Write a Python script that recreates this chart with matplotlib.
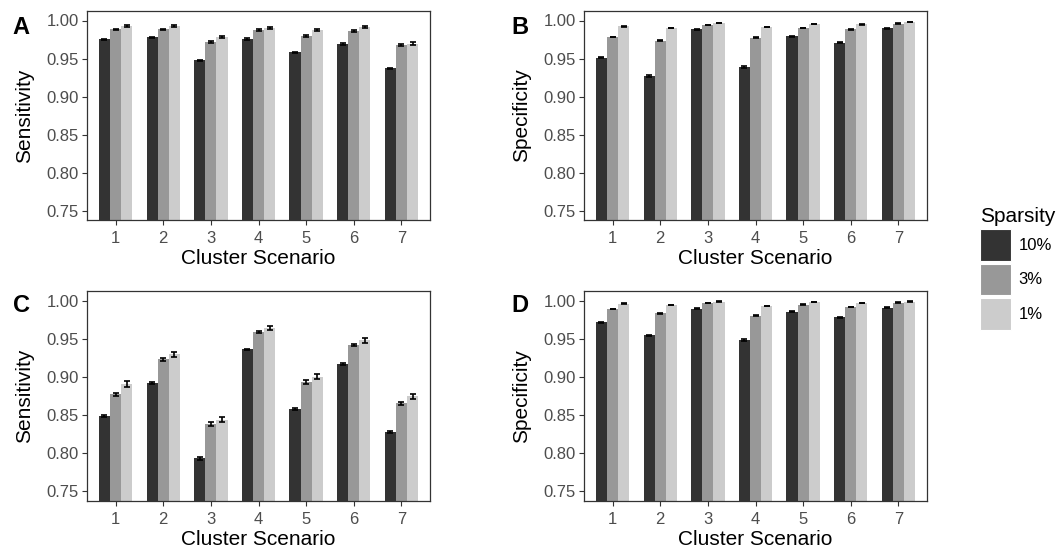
import matplotlib
matplotlib.use("Agg")
import matplotlib.pyplot as plt
import numpy as np
from matplotlib.patches import Patch

plt.rcParams['font.family'] = ['Liberation Sans', 'DejaVu Sans']

scenarios = ['1', '2', '3', '4', '5', '6', '7']
sparsity_labels = ['10%', '3%', '1%']
colors = ['#333333', '#989898', '#CCCCCC']

# Panel A: Sensitivity
A_10 = [0.9752, 0.9778, 0.9474, 0.9757, 0.9583, 0.9691, 0.9370]
A_3 = [0.9883, 0.9883, 0.9713, 0.9874, 0.9800, 0.9860, 0.9680]
A_1 = [0.9930, 0.9930, 0.9783, 0.9900, 0.9870, 0.9917, 0.9696]
A_err10 = [0.0008, 0.0008, 0.0009, 0.0009, 0.0009, 0.0008, 0.0009]
A_err3 = [0.0009, 0.0009, 0.0012, 0.0012, 0.0011, 0.0009, 0.0012]
A_err1 = [0.0011, 0.0011, 0.0018, 0.0016, 0.0014, 0.0011, 0.0018]

# Panel B: Specificity
B_10 = [0.9513, 0.9270, 0.9883, 0.9387, 0.9790, 0.9709, 0.9900]
B_3 = [0.9783, 0.9735, 0.9940, 0.9774, 0.9900, 0.9883, 0.9957]
B_1 = [0.9922, 0.9900, 0.9970, 0.9913, 0.9957, 0.9948, 0.9978]
B_err10 = [0.0008, 0.0012, 0.0006, 0.0013, 0.0008, 0.0008, 0.0006]
B_err3 = [0.0006, 0.0006, 0.0004, 0.0006, 0.0005, 0.0005, 0.0004]
B_err1 = [0.0004, 0.0004, 0.0003, 0.0004, 0.0003, 0.0003, 0.0003]

# Panel C: Sensitivity
C_10 = [0.8484, 0.8920, 0.7936, 0.9360, 0.8576, 0.9172, 0.8280]
C_3 = [0.8772, 0.9229, 0.8380, 0.9590, 0.8933, 0.9420, 0.8654]
C_1 = [0.8911, 0.9294, 0.8440, 0.9640, 0.9003, 0.9477, 0.8746]
C_err10 = [0.0012, 0.0012, 0.0020, 0.0010, 0.0012, 0.0010, 0.0010]
C_err3 = [0.0020, 0.0018, 0.0025, 0.0015, 0.0020, 0.0015, 0.0018]
C_err1 = [0.0038, 0.0030, 0.0035, 0.0025, 0.0030, 0.0030, 0.0032]

# Panel D: Specificity
D_10 = [0.9717, 0.9543, 0.9895, 0.9482, 0.9856, 0.9782, 0.9904]
D_3 = [0.9890, 0.9834, 0.9965, 0.9800, 0.9948, 0.9913, 0.9974]
D_1 = [0.9960, 0.9939, 0.9987, 0.9926, 0.9978, 0.9970, 0.9987]
D_err10 = [0.0007, 0.0011, 0.0005, 0.0012, 0.0006, 0.0008, 0.0005]
D_err3 = [0.0005, 0.0005, 0.0003, 0.0006, 0.0004, 0.0004, 0.0003]
D_err1 = [0.0003, 0.0003, 0.0002, 0.0003, 0.0003, 0.0003, 0.0002]

panels = [
    ('A', 'Sensitivity', [A_10, A_3, A_1], [A_err10, A_err3, A_err1]),
    ('B', 'Specificity', [B_10, B_3, B_1], [B_err10, B_err3, B_err1]),
    ('C', 'Sensitivity', [C_10, C_3, C_1], [C_err10, C_err3, C_err1]),
    ('D', 'Specificity', [D_10, D_3, D_1], [D_err10, D_err3, D_err1]),
]

W, H = 1059, 555
fig = plt.figure(figsize=(W / 100, H / 100), dpi=100)

boxes = [(87, 11, 343, 209), (584, 11, 343, 209),
         (87, 291, 343, 210), (584, 291, 343, 210)]
letter_pos = [(21, 27), (520, 27), (21, 306), (520, 306)]

x = np.arange(len(scenarios))
bw = 0.7 / 3
edge = '#333333'
for (letter, ylab, series, errs), (l, t, w, h), (lx, ly) in zip(panels, boxes, letter_pos):
    ax = fig.add_axes([l / W, 1 - (t + h) / H, w / W, h / H])
    for i, (vals, er) in enumerate(zip(series, errs)):
        pos = x + (i - 1) * bw
        ax.bar(pos, np.array(vals) - 0.7, bottom=0.7, width=bw, color=colors[i],
               linewidth=0, zorder=2)
        ax.errorbar(pos, vals, yerr=er, fmt='none', ecolor='black', elinewidth=1.2,
                    capsize=2.2, capthick=1.2, zorder=3)
    ax.set_xlim(-0.6, len(scenarios) - 0.4)
    ax.set_ylim(0.7375, 1.0125)
    ax.set_xticks(x)
    ax.set_xticklabels(scenarios)
    ax.set_yticks([0.75, 0.80, 0.85, 0.90, 0.95, 1.00])
    ax.set_yticklabels(['0.75', '0.80', '0.85', '0.90', '0.95', '1.00'])
    ax.tick_params(axis='both', labelsize=12, labelcolor='#4D4D4D', color=edge,
                   length=3.5, width=0.8, pad=2.5)
    ax.tick_params(axis='x', pad=4.5)
    for s in ax.spines.values():
        s.set_color(edge)
        s.set_linewidth(0.9)
    ax.set_ylabel(ylab, fontsize=15, labelpad=9)
    ax.set_xlabel('Cluster Scenario', fontsize=15, labelpad=2)
    fig.text(lx / W, 1 - ly / H, letter, fontsize=17, fontweight='bold',
             ha='center', va='center')

handles = [Patch(facecolor=c, edgecolor='white', linewidth=0.8) for c in colors]
leg = fig.legend(handles, sparsity_labels, loc='upper left',
                 bbox_to_anchor=(980 / W, 1 - 207 / H), frameon=False,
                 fontsize=12, title='Sparsity', title_fontsize=15,
                 handlelength=1.86, handleheight=2.5, labelspacing=0.2,
                 handletextpad=0.45, borderpad=0.0, borderaxespad=0.0)
leg._legend_box.align = 'left'

fig.savefig('out.png', dpi=100)
